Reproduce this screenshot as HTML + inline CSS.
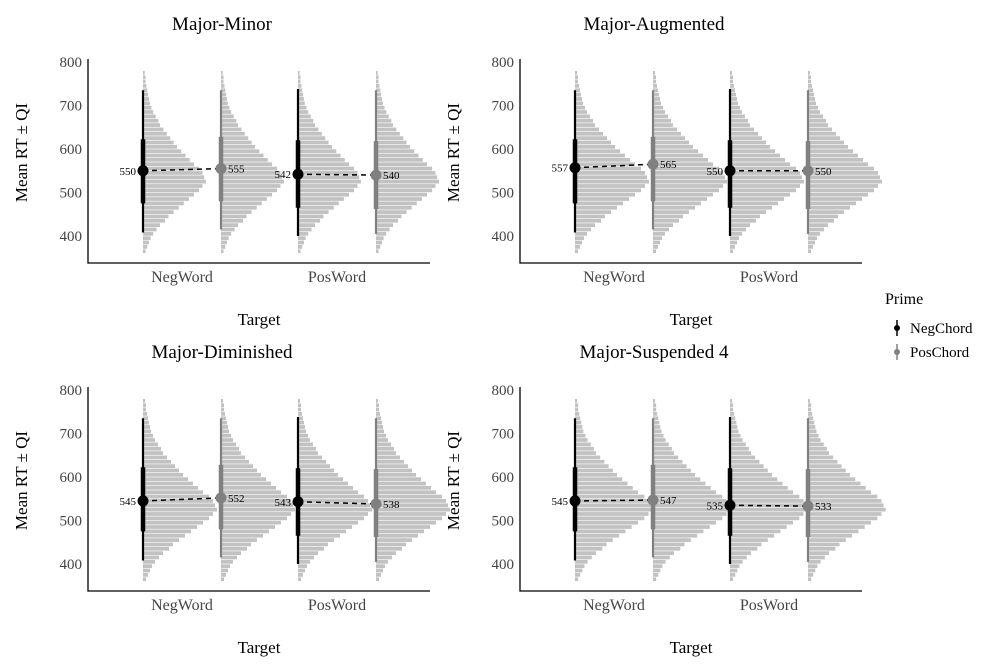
<!DOCTYPE html>
<html><head><meta charset="utf-8">
<style>
html,body{margin:0;padding:0;background:#fff;}
svg{display:block;font-family:"Liberation Serif",serif;}
</style></head>
<body>
<svg id="c" width="1008" height="672" xmlns="http://www.w3.org/2000/svg"></svg>
<script>
const titles = ["Major-Minor","Major-Augmented","Major-Diminished","Major-Suspended 4"];
const means1 = [550,555,542,540];
const means2 = [557,565,550,550];
const means3 = [545,552,543,538];
const means4 = [545,547,535,533];
const thinLo = [408,415,400,405];
const thinHi = [735,735,738,735];
const boxLo = [475,480,465,462];
const boxHi = [622,628,620,618];
const yTicks = [400,500,600,700,800];
const categories = ["NegWord","PosWord"];
const primes = ["NegChord","PosChord"];
// histogram bin lengths (10ms bins starting at 360)
const histStart = 360;
const histLen = [3,5,7,9,12,16,20,26,30,36,42,48,54,60,66,70,74,72,70,66,60,55,50,45,40,36,32,28,24,20,18,15,12,10,8,7,6,5,4,3,3,2];
const histScale = [0.85,1.0,1.0,1.05];

const allMeans=[means1,means2,means3,means4];
const svg=document.getElementById('c');
const NS="http://www.w3.org/2000/svg";
function mk(t,a,p){const e=document.createElementNS(NS,t);for(const k in a)e.setAttribute(k,a[k]);(p||svg).appendChild(e);return e;}
const panels=[{x:88,top:62,bottom:263},{x:520,top:62,bottom:263},{x:88,top:390,bottom:591},{x:520,top:390,bottom:591}];
const offs=[55,133,210,288];
for(let p=0;p<4;p++){
  const P=panels[p];
  const g=mk('g',{});
  
  
  const y=v=>P.top+(800-v)*(174/400);
  const t=mk('text',{x:P.x+134,y:P.top-32,'font-size':19,'text-anchor':'middle',fill:'#000'},g);t.textContent=titles[p];
  
  const ax=mk('path',{d:`M${P.x},${P.top-3}V${P.bottom}H${P.x+342}`,stroke:'#000','stroke-width':1.3,fill:'none'},g);
  
  yTicks.forEach(v=>{const tt=mk('text',{x:P.x-6,y:y(v)+5,'font-size':15,'text-anchor':'end',fill:'#444'},g);tt.textContent=v;
    });
  const yt=mk('text',{transform:`translate(${P.x-61},${(P.top+P.bottom)/2-10}) rotate(-90)`,'font-size':17,'text-anchor':'middle'},g);yt.textContent="Mean RT ± QI";
  
  categories.forEach((c,i)=>{const tt=mk('text',{x:P.x+(offs[i*2]+offs[i*2+1])/2,y:P.bottom+19,'font-size':16,'text-anchor':'middle',fill:'#444'},g);tt.textContent=c;
    });
  const xt=mk('text',{x:P.x+171,y:P.bottom+62,'font-size':17,'text-anchor':'middle'},g);xt.textContent="Target";
  
  const m=allMeans[p];
  for(let k=0;k<4;k++){
    const x=P.x+offs[k];
    histLen.forEach((L,b)=>{const v0=histStart+b*10;
      const r=mk('rect',{x:x,y:y(v0+10)+0.3,width:L*histScale[p],height:(10*174/400)-0.6,fill:'#c2c2c2'},g);
      });
  }
  for(let i=0;i<2;i++){
    const x1=P.x+offs[i*2],x2=P.x+offs[i*2+1];
    const l=mk('line',{x1:x1,y1:y(m[i*2]),x2:x2,y2:y(m[i*2+1]),stroke:'#000','stroke-width':1.5,'stroke-dasharray':'5,4'},g);
    
  }
  for(let k=0;k<4;k++){
    const x=P.x+offs[k];const col=k%2?'#808080':'#000';
    const w=mk('line',{x1:x,x2:x,y1:y(thinLo[k]),y2:y(thinHi[k]),stroke:col,'stroke-width':2.2},g);
    
    const b=mk('line',{x1:x,x2:x,y1:y(boxLo[k]),y2:y(boxHi[k]),stroke:col,'stroke-width':4.5},g);
    
    const d=mk('circle',{cx:x,cy:y(m[k]),r:5.5,fill:col},g);
    
    const tl=mk('text',{x:k%2?x+7:x-7,y:y(m[k])+4,'font-size':11,'text-anchor':k%2?'start':'end'},g);tl.textContent=m[k];
    
  }
}
const lg=mk('g',{});

const lt=mk('text',{x:885,y:304,'font-size':16},lg);lt.textContent="Prime";
primes.forEach((n,i)=>{const cy=328+i*24;const col=i?'#808080':'#000';
  const e=mk('g',{},lg);
  
  mk('line',{x1:897,x2:897,y1:cy-8,y2:cy+8,stroke:col,'stroke-width':1.5},e);
  mk('circle',{cx:897,cy:cy,r:3,fill:col},e);
  const tx=mk('text',{x:910,y:cy+5,'font-size':15},e);tx.textContent=n;});
</script>
</body></html>
